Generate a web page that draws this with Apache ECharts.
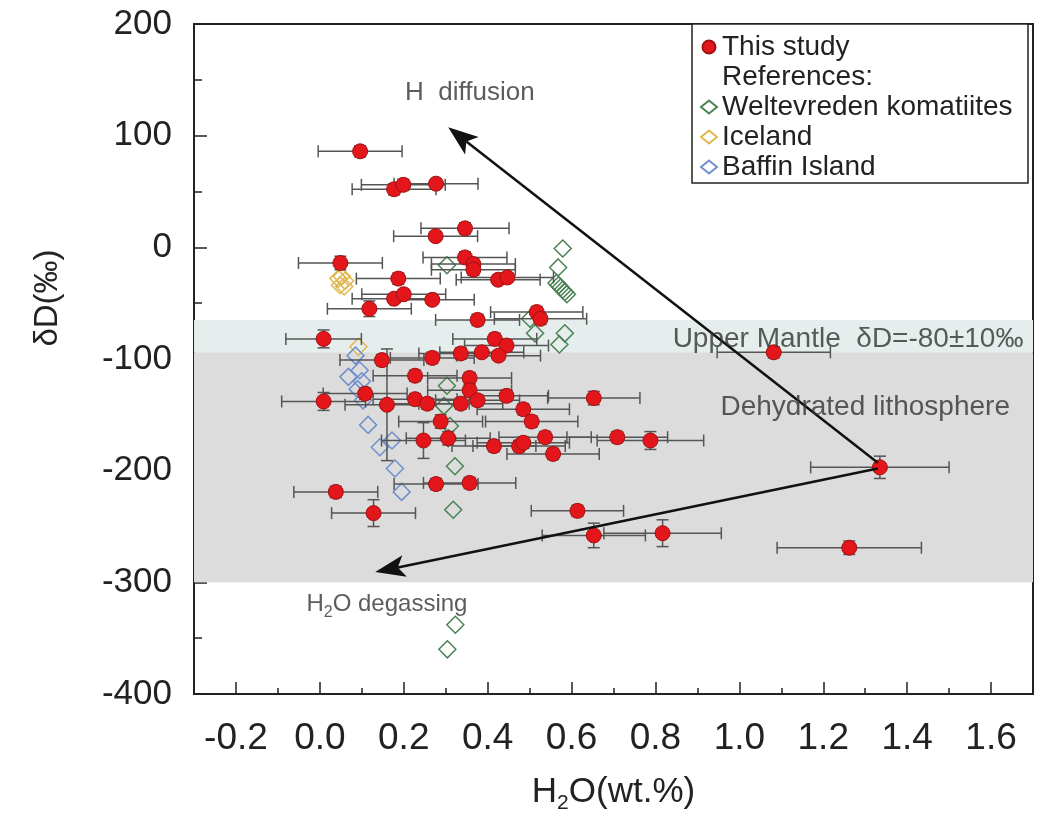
<!DOCTYPE html>
<html><head><meta charset="utf-8">
<script src="https://cdn.jsdelivr.net/npm/echarts@6/dist/echarts.min.js"></script>
<style>html,body{margin:0;padding:0;background:#fff}#c{width:1047px;height:819px}</style>
</head><body><div id="c"></div>
<script>
// ---- data ----
const studyH2O = [0.096,0.177,0.199,0.277,0.346,0.276,0.049,0.346,0.366,0.366,0.187,0.425,0.447,0.177,0.200,0.268,0.118,0.376,0.517,0.526,
  0.009,0.417,0.445,0.148,0.268,0.336,0.386,0.426,1.082,0.227,0.357,0.357,0.376,0.108,0.009,0.160,0.227,0.256,0.336,0.445,
  0.485,0.505,0.653,0.288,0.247,0.306,0.415,0.475,0.485,0.537,0.556,0.709,0.788,1.335,0.277,0.357,0.038,0.128,0.614,0.653,0.817,1.262];
const studyDD = [86,52,56,57,17,10,-14,-9,-15,-20,-28,-29,-27,-46,-42,-47,-55,-65,-58,-64,
  -82,-82,-88,-101,-99,-95,-94,-97,-94,-115,-117,-128,-137,-131,-138,-141,-136,-140,-140,-133,
  -145,-156,-135,-156,-173,-171,-178,-178,-175,-170,-185,-170,-173,-197,-212,-211,-219,-238,-236,-258,-256,-269];
const studyH2OErr = [0.10,0.10,0.10,0.10,0.105,0.10,0.10,0.10,0.10,0.10,0.10,0.10,0.11,0.10,0.10,0.10,0.10,0.10,0.11,0.11,
  0.09,0.10,0.10,0.10,0.10,0.10,0.10,0.10,0.135,0.10,0.10,0.10,0.10,0.10,0.10,0.10,0.10,0.10,0.10,0.10,
  0.11,0.11,0.11,0.10,0.10,0.10,0.10,0.11,0.11,0.11,0.11,0.12,0.127,0.165,0.10,0.11,0.10,0.10,0.11,0.123,0.14,0.172];
const studyDDErr = [5,5,5,4,5,4,6,5,5,5,5,4,4,4,4,4,7,5,5,5,
  8,5,5,5,5,5,4,4,5,5,5,5,5,5,8,50,5,5,5,5,
  5,5,6,6,16,6,5,5,5,5,5,5,8,10,5,5,5,12,5,11,12,6];

const welteH2O = [0.579,0.568,0.564,0.569,0.574,0.579,0.584,0.589,0.303,0.501,0.513,0.584,0.571,0.303,0.296,0.310,0.306,0.322,0.318,0.323,0.304];
const welteDD  = [-1,-18,-32,-34,-36,-38,-40,-42,-16,-64,-77,-77,-87,-124,-142,-160,-171,-196,-235,-338,-360];
const icelandH2O = [0.044,0.052,0.060,0.048,0.058,0.092];
const icelandDD  = [-28,-26,-30,-34,-35,-89];
const baffinH2O = [0.085,0.095,0.068,0.100,0.090,0.103,0.115,0.143,0.172,0.179,0.195];
const baffinDD  = [-97,-110,-116,-120,-127,-137,-159,-179,-173,-198,-219];

const xTickValues = [-0.2,0,0.2,0.4,0.6,0.8,1.0,1.2,1.4,1.6];
const xMinorTickValues = [-0.1,0.1,0.3,0.5,0.7,0.9,1.1,1.3,1.5];
const xRange = [-0.3, 1.7];
const yRange = [-400, 200];
const mantleBand = [-65, -94];
const lithoBand = [-94, -300];
// arrows: [fromH2O, fromDD, toH2O, toDD]
const arrowDiffusion = [1.33,-193,0.306,107.5];
const arrowDegassing = [1.33,-198,0.132,-290.8];
const noteTexts = ['H  diffusion','Upper Mantle  δD=-80±10‰','Dehydrated lithosphere','H{s|2}O degassing'];
const noteX = [0.203,0.841,0.955,-0.032];
const noteY = [138.6,-82,-143,-320];

// ---- chart ----
const FONT = '"Liberation Sans", Arial, sans-serif';
const noteSizes = [26,28,28,24];
const chart = echarts.init(document.getElementById('c'));
const axisLineStyle = {color:'#222', width:2};

const option = {
  animation:false,
  backgroundColor:'#fff',
  textStyle:{fontFamily:FONT},
  grid:{left:194, right:14, top:24, bottom:125, show:true, borderColor:'#222', borderWidth:2, backgroundColor:'transparent'},
  xAxis:[{
    type:'value', min:xRange[0], max:xRange[1],
    axisLine:{show:true, onZero:false, lineStyle:axisLineStyle},
    axisTick:{show:true, inside:true, length:12, customValues:xTickValues, lineStyle:{color:'#222', width:1.5}},
    axisLabel:{customValues:xTickValues, formatter:v=>Number(v).toFixed(1), fontSize:37, color:'#222', margin:26, fontFamily:FONT},
    splitLine:{show:false},
    name:'H{sub|2}O(wt.%)', nameLocation:'middle', nameGap:76,
    nameTextStyle:{fontSize:35, color:'#222', fontFamily:FONT, lineHeight:44,
      rich:{sub:{fontSize:21, lineHeight:44, verticalAlign:'bottom', fontFamily:FONT, color:'#222'}}}
  },{
    type:'value', min:xRange[0], max:xRange[1], position:'bottom',
    axisLine:{show:false, onZero:false},
    axisTick:{show:true, inside:true, length:6, customValues:xMinorTickValues, lineStyle:{color:'#222', width:1.5}},
    axisLabel:{show:false}, splitLine:{show:false}
  }],
  yAxis:{
    type:'value', min:yRange[0], max:yRange[1], interval:100,
    axisLine:{show:true, onZero:false, lineStyle:axisLineStyle},
    axisTick:{show:true, inside:true, length:13, lineStyle:{color:'#222', width:1.5}},
    minorTick:{show:true, splitNumber:2, length:8, lineStyle:{color:'#222', width:1.5}},
    splitLine:{show:false}, minorSplitLine:{show:false},
    axisLabel:{fontSize:35, color:'#222', margin:22, fontFamily:FONT}
  },
  legend:{
    left:694, top:29, orient:'vertical', selectedMode:false, z:20,
    itemWidth:16, itemHeight:13, itemGap:2, padding:[4,6],
    textStyle:{fontSize:28, lineHeight:28, color:'#222', fontFamily:FONT},
    data:[
      {name:'This study', icon:'circle'},
      {name:'References:', icon:'rect', itemStyle:{opacity:0}},
      {name:'Weltevreden komatiites', icon:'diamond'},
      {name:'Iceland', icon:'diamond'},
      {name:'Baffin Island', icon:'diamond'}
    ]
  },
  graphic:[
    {type:'rect', z:5, shape:{x:692, y:24, width:336, height:159}, style:{fill:'#fff', stroke:'#222', lineWidth:1.5}},
    {type:'text', z:5, x:48, y:298, rotation:Math.PI/2,
      style:{text:'δD(‰)', fontSize:33, fontFamily:FONT, fill:'#222', textAlign:'center', textVerticalAlign:'middle', align:'center', verticalAlign:'middle'}}
  ],
  series:[
    {
      type:'line', name:'bands', data:[], z:1, silent:true,
      markArea:{silent:true, data:[
        [{yAxis:mantleBand[0], itemStyle:{color:'#e5eded'}},{yAxis:mantleBand[1]}],
        [{yAxis:lithoBand[0], itemStyle:{color:'#dcdcdc'}},{yAxis:lithoBand[1]}]
      ]}
    },
    {type:'scatter', name:'References:', data:[], symbolSize:0},
    {
      type:'scatter', name:'Weltevreden komatiites', z:3, symbol:'diamond', symbolSize:17,
      itemStyle:{color:'rgba(255,255,255,0)', borderColor:'#4b8354', borderWidth:1.5, opacity:1},
      data: welteH2O.map((x,i)=>[x, welteDD[i]])
    },
    {
      type:'scatter', name:'Iceland', z:3, symbol:'diamond', symbolSize:17,
      itemStyle:{color:'rgba(255,255,255,0)', borderColor:'#e2b84e', borderWidth:1.5, opacity:1},
      data: icelandH2O.map((x,i)=>[x, icelandDD[i]])
    },
    {
      type:'scatter', name:'Baffin Island', z:3, symbol:'diamond', symbolSize:17,
      itemStyle:{color:'rgba(255,255,255,0)', borderColor:'#7190cb', borderWidth:1.5, opacity:1},
      data: baffinH2O.map((x,i)=>[x, baffinDD[i]])
    },
    {
      type:'custom', name:'errors', z:4, silent:true,
      encode:{x:0, y:1},
      data: studyH2O.map((x,i)=>[x, studyDD[i], studyH2OErr[i], studyDDErr[i]]),
      renderItem(params, api){
        const x=api.value(0), y=api.value(1), ex=api.value(2), ey=api.value(3);
        const l=api.coord([x-ex,y]), r=api.coord([x+ex,y]);
        const t=api.coord([x,y+ey]), b=api.coord([x,y-ey]);
        const c=6, s={stroke:'#555', lineWidth:1.5};
        return {type:'group', children:[
          {type:'line', shape:{x1:l[0],y1:l[1],x2:r[0],y2:r[1]}, style:s},
          {type:'line', shape:{x1:l[0],y1:l[1]-c,x2:l[0],y2:l[1]+c}, style:s},
          {type:'line', shape:{x1:r[0],y1:r[1]-c,x2:r[0],y2:r[1]+c}, style:s},
          {type:'line', shape:{x1:t[0],y1:t[1],x2:b[0],y2:b[1]}, style:s},
          {type:'line', shape:{x1:t[0]-c,y1:t[1],x2:t[0]+c,y2:t[1]}, style:s},
          {type:'line', shape:{x1:b[0]-c,y1:b[1],x2:b[0]+c,y2:b[1]}, style:s}
        ]};
      }
    },
    {
      type:'scatter', name:'This study', z:5, symbol:'circle', symbolSize:15,
      itemStyle:{color:'#e3161c', borderColor:'#a01212', borderWidth:1, opacity:1},
      data: studyH2O.map((x,i)=>[x, studyDD[i]])
    },
    {
      type:'custom', name:'arrows', z:6, silent:true,
      encode:{x:[0,2], y:[1,3]},
      data:[arrowDiffusion, arrowDegassing],
      renderItem(params, api){
        const p1=api.coord([api.value(0), api.value(1)]);
        const p2=api.coord([api.value(2), api.value(3)]);
        const dx=p2[0]-p1[0], dy=p2[1]-p1[1], len=Math.hypot(dx,dy);
        const ux=dx/len, uy=dy/len, nx=-uy, ny=ux;
        const L=30, W=11, N=23;
        const bx=p2[0]-ux*L, by=p2[1]-uy*L;
        const mx=p2[0]-ux*N, my=p2[1]-uy*N;
        return {type:'group', children:[
          {type:'line', shape:{x1:p1[0],y1:p1[1],x2:mx,y2:my}, style:{stroke:'#111', lineWidth:2.5}},
          {type:'polygon', shape:{points:[[p2[0],p2[1]],[bx+nx*W,by+ny*W],[mx,my],[bx-nx*W,by-ny*W]]}, style:{fill:'#111'}}
        ]};
      }
    },
    {
      type:'scatter', name:'notes', z:6, silent:true, symbolSize:0,
      data: noteX.map((x,i)=>({value:[x, noteY[i]], label:{fontSize:noteSizes[i]}})),
      label:{show:true, position:'right', distance:0, color:'#333', fontFamily:FONT,
        formatter:p=>noteTexts[p.dataIndex], lineHeight:32,
        rich:{s:{fontSize:16, lineHeight:32, verticalAlign:'bottom', color:'#333', fontFamily:FONT}}}
    }
  ]
};
chart.setOption(option);
</script>
</body></html>
